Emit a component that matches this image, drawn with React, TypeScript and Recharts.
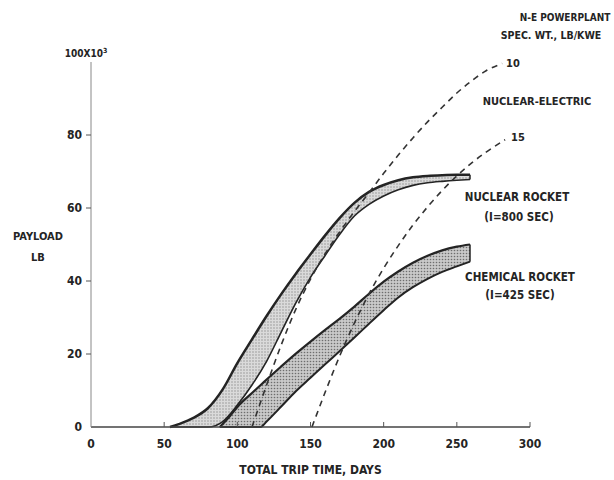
import React from 'react';
import { ComposedChart, Area, Line, XAxis, YAxis, ReferenceLine, Label } from 'recharts';

const xTicks = [0, 50, 100, 150, 200, 250, 300];
const yTicks = [0, 20, 40, 60, 80, 100];

// nuclear rocket band (I=800 sec)
const nuclearDays = [54, 60, 70, 80, 90, 100, 110, 120, 130, 140, 150, 160, 170, 180, 190, 200, 210, 220, 230, 240, 250, 259];
const nuclearHigh = [0, 0.8, 2.5, 5.2, 10.3, 17.5, 24, 30.4, 36.4, 42, 47.3, 52.5, 57.3, 61.4, 64.4, 66.3, 67.6, 68.4, 68.8, 69, 69.1, 69.1];
const nuclearLow = [0, 0, 0, 0, 1.5, 6, 11.5, 18, 26, 34, 41, 47, 52.8, 57.8, 61, 63.3, 65, 66.2, 66.9, 67.3, 67.6, 67.8];

// chemical rocket band (I=425 sec)
const chemicalDays = [88, 95, 100, 110, 116, 120, 130, 140, 150, 160, 170, 180, 190, 200, 210, 220, 230, 240, 250, 259];
const chemicalHigh = [0, 3, 5.5, 9.3, 11.5, 13, 16.6, 20.1, 23.4, 26.6, 29.7, 33, 36.5, 39.8, 42.6, 45, 46.9, 48.4, 49.4, 50];
const chemicalLow = [0, 0, 0, 0, 0, 1.5, 5.6, 9.8, 13.5, 17.2, 20.8, 24.5, 28.3, 32, 35.5, 38.3, 40.6, 42.5, 44, 45.3];

// nuclear-electric, powerplant spec. wt. 10 and 15 lb/kwe
const ne10Days = [110, 120, 130, 140, 150, 160, 170, 180, 190, 200, 210, 220, 230, 240, 250, 260, 270, 281];
const ne10Values = [0, 11.5, 22.5, 32.3, 40.5, 47.5, 53.5, 59, 64.2, 69.5, 74.5, 79.2, 83.6, 87.6, 91.5, 94.8, 97.6, 99.6];
const ne15Days = [151, 160, 170, 180, 190, 200, 210, 220, 230, 240, 250, 260, 270, 283];
const ne15Values = [0, 9.5, 19.5, 28.5, 36.5, 43.5, 49.7, 55.3, 60.3, 64.8, 68.8, 72.3, 75.3, 78.7];

const band = (days: number[], lo: number[], hi: number[]) =>
  days.map((day, i) => ({ day, lo: lo[i], hi: hi[i], range: [lo[i], hi[i]] }));
const curve = (days: number[], vals: number[]) => days.map((day, i) => ({ day, v: vals[i] }));

const nuclearData = band(nuclearDays, nuclearLow, nuclearHigh);
const chemicalData = band(chemicalDays, chemicalLow, chemicalHigh);
const ne10Data = curve(ne10Days, ne10Values);
const ne15Data = curve(ne15Days, ne15Values);

const FONT = '"DejaVu Sans Condensed", "DejaVu Sans", sans-serif';
const INK = '#242424';

const XTick = ({ x, y, payload }: any) => (
  <g>
    {payload.value !== 0 && <line x1={x} x2={x} y1={y - 5} y2={y} stroke="#555" strokeWidth={1} />}
    <text x={x} y={y + 21} textAnchor="middle" fontFamily={FONT} fontWeight="bold" fontSize={12} fill={INK}>
      {payload.value}
    </text>
  </g>
);

const YTick = ({ x, y, payload }: any) => {
  if (payload.value === 100) {
    return (
      <text x={x - 5} y={y - 5} textAnchor="middle" fontFamily={FONT} fontWeight="bold" fontSize={10} fill={INK}>
        100X10<tspan dy={-4} fontSize={7}>3</tspan>
      </text>
    );
  }
  return (
    <g>
      {payload.value !== 0 && <line x1={x - 5} x2={x} y1={y} y2={y} stroke="#555" strokeWidth={1} />}
      <text x={x - 9} y={y + 4} textAnchor="end" fontFamily={FONT} fontWeight="bold" fontSize={12} fill={INK}>
        {payload.value}
      </text>
    </g>
  );
};

// annotation texts: centre x, baseline y, font size
const notes = [
  { text: 'N-E POWERPLANT', x: 565, y: 21, size: 10 },
  { text: 'SPEC. WT., LB/KWE', x: 551, y: 39, size: 10.5 },
  { text: '10', x: 513, y: 67, size: 11 },
  { text: 'NUCLEAR-ELECTRIC', x: 537, y: 105, size: 11 },
  { text: '15', x: 518, y: 141, size: 11 },
  { text: 'NUCLEAR ROCKET', x: 517, y: 201, size: 11.5 },
  { text: '(I=800 SEC)', x: 519, y: 221, size: 11.5 },
  { text: 'CHEMICAL ROCKET', x: 520, y: 281, size: 11.5 },
  { text: '(I=425 SEC)', x: 520, y: 299, size: 11.5 },
  { text: 'PAYLOAD', x: 38, y: 240, size: 11 },
  { text: 'LB', x: 38, y: 261, size: 11 },
];

const last = (arr: number[]) => arr[arr.length - 1];

export default function App() {
  return (
    <div style={{ position: 'absolute', left: 0, top: 0, width: 614, height: 480, background: '#fff' }}>
      <svg width={0} height={0} style={{ position: 'absolute' }}>
        <defs>
          <pattern id="stipLight" width={3} height={3} patternUnits="userSpaceOnUse">
            <rect width={3} height={3} fill="#dadada" />
            <circle cx={1} cy={1} r={0.7} fill="#8a8a8a" />
          </pattern>
          <pattern id="stipDark" width={3} height={3} patternUnits="userSpaceOnUse">
            <rect width={3} height={3} fill="#c9c9c9" />
            <circle cx={1.5} cy={1.5} r={0.8} fill="#6e6e6e" />
          </pattern>
        </defs>
      </svg>
      <ComposedChart width={614} height={480} margin={{ top: 62, right: 84, bottom: 3, left: 51 }}>
        <XAxis
          type="number"
          dataKey="day"
          domain={[0, 300]}
          ticks={xTicks}
          height={50}
          tickSize={0}
          tickMargin={0}
          tickLine={false}
          tick={<XTick />}
          stroke="#444"
          strokeWidth={1.5}
          allowDataOverflow
        >
          <Label
            value="TOTAL TRIP TIME, DAYS"
            position="insideBottom"
            offset={3}
            style={{ fontFamily: FONT, fontWeight: 'bold', fontSize: 12, fill: INK }}
          />
        </XAxis>
        <YAxis
          type="number"
          domain={[0, 100]}
          ticks={yTicks}
          width={40}
          tickSize={0}
          tickMargin={0}
          tickLine={false}
          tick={<YTick />}
          stroke="#888"
          strokeWidth={1}
        />

        <Area data={nuclearData} dataKey="range" type="monotone" fill="url(#stipLight)" fillOpacity={1} stroke="none" isAnimationActive={false} />
        <Area data={chemicalData} dataKey="range" type="monotone" fill="url(#stipDark)" fillOpacity={1} stroke="none" isAnimationActive={false} />

        <Line data={nuclearData} dataKey="hi" type="monotone" stroke={INK} strokeWidth={2.5} dot={false} isAnimationActive={false} />
        <Line data={nuclearData} dataKey="lo" type="monotone" stroke={INK} strokeWidth={1.6} dot={false} isAnimationActive={false} />
        <Line data={chemicalData} dataKey="hi" type="monotone" stroke={INK} strokeWidth={2.2} dot={false} isAnimationActive={false} />
        <Line data={chemicalData} dataKey="lo" type="monotone" stroke={INK} strokeWidth={2} dot={false} isAnimationActive={false} />

        <ReferenceLine
          segment={[{ x: last(nuclearDays), y: last(nuclearLow) }, { x: last(nuclearDays), y: last(nuclearHigh) }]}
          stroke={INK}
          strokeWidth={1.5}
        />
        <ReferenceLine
          segment={[{ x: last(chemicalDays), y: last(chemicalLow) }, { x: last(chemicalDays), y: last(chemicalHigh) }]}
          stroke={INK}
          strokeWidth={1.5}
        />

        <Line data={ne10Data} dataKey="v" type="monotone" stroke="#333" strokeWidth={1.6} strokeDasharray="6 5" dot={false} isAnimationActive={false} />
        <Line data={ne15Data} dataKey="v" type="monotone" stroke="#333" strokeWidth={1.6} strokeDasharray="6 5" dot={false} isAnimationActive={false} />
      </ComposedChart>
      <svg width={614} height={480} style={{ position: 'absolute', left: 0, top: 0, pointerEvents: 'none' }}>
        {notes.map((n) => (
          <text
            key={n.text}
            x={n.x}
            y={n.y}
            textAnchor="middle"
            fontFamily={FONT}
            fontWeight="bold"
            fontSize={n.size}
            fill={INK}
          >
            {n.text}
          </text>
        ))}
      </svg>
    </div>
  );
}
